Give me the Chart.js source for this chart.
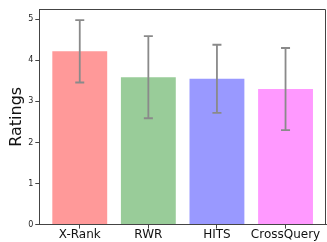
<!DOCTYPE html>
<html>
<head>
<meta charset="utf-8">
<script src="https://cdn.jsdelivr.net/npm/chart.js@4/dist/chart.umd.min.js"></script>
<style>
  html, body { margin: 0; padding: 0; background: #fff; }
  #wrap { width: 327px; height: 242px; }
</style>
</head>
<body>
<div id="wrap"><canvas id="barChart" width="327" height="242"></canvas></div>
<script>
const methods = ['X-Rank', 'RWR', 'HITS', 'CrossQuery'];
const ratings = [4.22, 3.59, 3.55, 3.30];
const errors = [0.76, 1.0, 0.83, 1.0];
const barColors = ['#ff9999', '#99cc99', '#9999ff', '#ff99ff'];
const yTicks = [0, 1, 2, 3, 4, 5];

// error bars + top/right spines
const errorBars = {
  id: 'errorBars',
  afterDatasetsDraw(chart) {
    const ctx = chart.ctx;
    const x = chart.scales.x, y = chart.scales.y;
    ctx.save();
    ctx.strokeStyle = '#8a8a8a';
    ctx.lineWidth = 1.8;
    ratings.forEach((v, i) => {
      const px = x.getPixelForValue(i);
      const top = y.getPixelForValue(v + errors[i]);
      const bot = y.getPixelForValue(v - errors[i]);
      ctx.beginPath();
      ctx.moveTo(px, top); ctx.lineTo(px, bot);
      ctx.moveTo(px - 4.5, top); ctx.lineTo(px + 4.5, top);
      ctx.moveTo(px - 4.5, bot); ctx.lineTo(px + 4.5, bot);
      ctx.stroke();
    });
    const a = chart.chartArea;
    ctx.strokeStyle = '#444';
    ctx.lineWidth = 1;
    ctx.beginPath();
    ctx.moveTo(a.left, a.top + 0.5); ctx.lineTo(a.right - 0.5, a.top + 0.5);
    ctx.lineTo(a.right - 0.5, a.bottom);
    ctx.stroke();
    ctx.restore();
  }
};

const ctx = document.getElementById('barChart').getContext('2d');
const barChart = new Chart(ctx, {
  type: 'bar',
  data: {
    datasets: [{
      data: ratings.map((v, i) => ({ x: i, y: v })),
      backgroundColor: barColors,
      borderWidth: 0,
      barPercentage: 0.8,
      categoryPercentage: 1.0
    }]
  },
  options: {
    responsive: false,
    animation: false,
    layout: { padding: { top: 9, right: 1, left: 7, bottom: 1 } },
    plugins: {
      legend: { display: false },
      tooltip: { enabled: false }
    },
    scales: {
      x: {
        type: 'linear',
        offset: false,
        min: -0.59,
        max: 3.59,
        afterBuildTicks: (axis) => { axis.ticks = methods.map((m, i) => ({ value: i })); },
        ticks: {
          callback: (v) => methods[v],
          color: '#111',
          font: { family: 'DejaVu Sans', size: 12 },
          padding: -1,
          maxRotation: 0
        },
        grid: { display: true, drawOnChartArea: false, tickLength: 4, color: '#444', offset: false },
        border: { display: true, color: '#444', width: 1 }
      },
      y: {
        min: 0,
        max: 5.25,
        afterBuildTicks: (axis) => { axis.ticks = yTicks.map(v => ({ value: v })); },
        ticks: {
          color: '#222',
          font: { family: 'DejaVu Sans', size: 8 },
          padding: 2
        },
        grid: { display: true, drawOnChartArea: false, tickLength: 4, color: '#444' },
        border: { display: true, color: '#444', width: 1 },
        title: {
          display: true,
          text: 'Ratings',
          color: '#111',
          font: { family: 'DejaVu Sans', size: 16 },
          padding: { top: 0, bottom: 0 }
        }
      }
    }
  },
  plugins: [errorBars]
});
</script>
</body>
</html>
